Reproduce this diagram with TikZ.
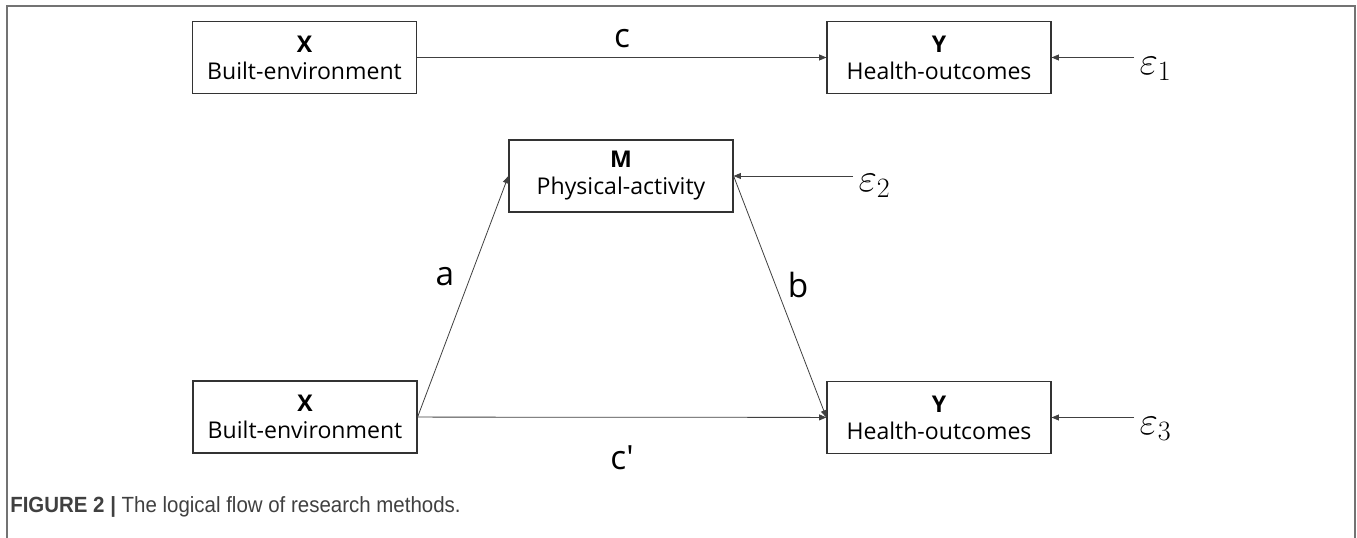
\RequirePackage{fix-cm}
\documentclass[tikz,border=0pt]{standalone}
\usepackage[no-math]{fontspec}
\setmainfont{Open Sans}
\newfontfamily\capfont[FakeStretch=0.93]{Liberation Sans}
\usetikzlibrary{arrows.meta}

\begin{document}
\begin{tikzpicture}[x=0.75pt,y=-0.75pt,
  varbox/.style={draw=black!80,line width=0.9pt,minimum width=168pt,minimum height=54pt,
    inner sep=0pt,align=center,font=\fontsize{17.3}{20.3}\selectfont},
  link/.style={draw=black!75,line width=0.6pt,-{Triangle[length=5.5pt,width=4.5pt]}},
  coef/.style={inner sep=0pt,font=\fontsize{25}{28}\selectfont},
  err/.style={inner sep=4pt,anchor=west,font=\fontsize{30}{34}\selectfont}]
\useasboundingbox (0,0) rectangle (1357,538);
% frame of the figure
\draw[black!55,line width=1.4pt] (7,538) -- (7,6) -- (1355,6) -- (1355,538);

% total effect
\node[varbox] (X1) at (304.5,57.5) {\textbf{X}\\Built-environment};
\node[varbox] (Y1) at (939,57.5) {\textbf{Y}\\Health-outcomes};
\node[err] (e1) at (1134,69) {$\varepsilon_1$};
\draw[link] (X1) -- (Y1);
\draw[link] (e1.west |- Y1) -- (Y1);
\node[coef] (c) at (622,39) {c};

% mediation
\node[varbox] (M) at (621,176) {\textbf{M}\\Physical-activity};
\node[varbox] (X2) at (305,417) {\textbf{X}\\Built-environment};
\node[varbox] (Y2) at (939,417.5) {\textbf{Y}\\Health-outcomes};
\node[err] (e2) at (853,186) {$\varepsilon_2$};
\node[err] (e3) at (1134,429) {$\varepsilon_3$};
\draw[link] (X2.east) -- (M.west);
\draw[link] (M.east) -- (Y2.west);
\draw[link] (X2) -- (Y2);
\draw[link] (e2.west |- M) -- (M);
\draw[link] (e3.west |- Y2) -- (Y2);
\node[coef] (a) at (445,277) {a};
\node[coef] (b) at (798,285) {b};
\node[coef] (cp) at (622,458) {c\textquotesingle};

% caption
\node[anchor=west,inner sep=0pt,font=\capfont\fontsize{16.5}{19}\selectfont,text=black!75]
  (cap) at (10,507) {\textbf{FIGURE 2 \textbar} The logical flow of research methods.};
\end{tikzpicture}
\end{document}
